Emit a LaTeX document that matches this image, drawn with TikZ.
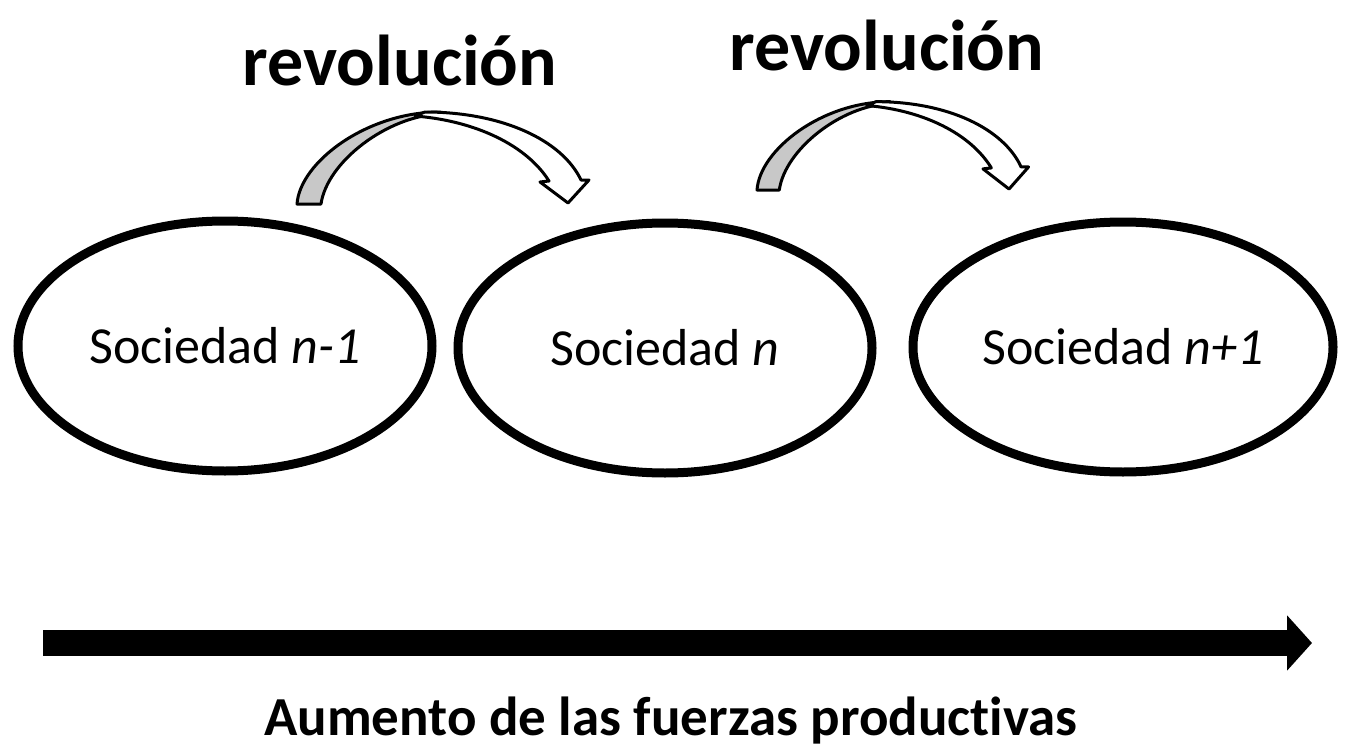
\documentclass[tikz,border=0pt]{standalone}
\usepackage{fontspec}
\setmainfont[Ligatures={NoCommon}]{Carlito}
\usetikzlibrary{arrows.meta,shapes.geometric}
\definecolor{bandgray}{RGB}{200,200,200}
\tikzset{
  soc/.style={draw=black, line width=9pt, ellipse, minimum width=414pt, minimum height=250pt, inner sep=0pt,
    font=\fontsize{52}{60}\selectfont},
  revlabel/.style={font=\fontsize{72}{80}\selectfont\bfseries, inner sep=0pt, anchor=base},
  bandunder/.style={draw=black, line width=3pt, line join=round, fill=bandgray},
  bandtop/.style={draw=black, line width=3pt, line join=round, fill=white},
  bigarrow/.style={line width=26pt, -{Triangle[length=25pt, width=54pt]}},
  axislabel/.style={font=\fontsize{55}{62}\selectfont\bfseries, inner sep=0pt, anchor=base}
}
\newcommand{\revarrow}{%
  \draw[bandunder] (0,0) .. controls (3,-42) and (70,-92) .. (143,-92) -- (143,-90)
     .. controls (90,-88) and (30,-42) .. (24,0) -- cycle;
  \draw[bandtop] (128,-92) .. controls (205,-92) and (265,-64) .. (284,-24)
     -- (292,-24) -- (271,-1) -- (243,-22) -- (252,-23)
     .. controls (230,-58) and (180,-83) .. (118,-88) -- cycle;
}
\begin{document}
\begin{tikzpicture}[x=1pt, y=-1pt]
\useasboundingbox (0,0) rectangle (1345,747);
\node[soc] (s1) at (225,346) {Sociedad \textit{n-1}};
\node[soc] (s2) at (665,348) {Sociedad \textit{n}};
\node[soc, minimum width=420pt] (s3) at (1123,347) {Sociedad \textit{n+1}};
\node[revlabel] (r1) at (400,85) {revolución};
\node[revlabel] (r2) at (887,70) {revolución};
\begin{scope}[shift={(297,204)}]
  \revarrow
\end{scope}
\begin{scope}[shift={(757,190)}, xscale=0.93, yscale=0.96]
  \revarrow
\end{scope}
\coordinate (a0) at (43,643);
\coordinate (a1) at (1312,643);
\draw[bigarrow] (a0) -- (a1);
\node[axislabel] (ax) at (671,735) {Aumento de las fuerzas productivas};
\end{tikzpicture}
\end{document}
